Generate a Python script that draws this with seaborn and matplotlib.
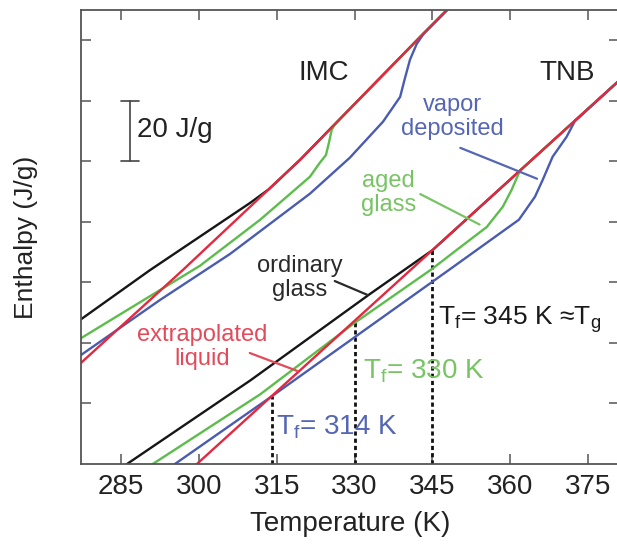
import numpy as np
import pandas as pd
import matplotlib
matplotlib.use("Agg")
import matplotlib.pyplot as plt
import seaborn as sns

# ---- enthalpy curves (T in K, H in J/g, arbitrary offset) ----
# IMC
imc_liquid_T = [277.0, 296.9, 319.5, 342.6, 349.0]
imc_liquid_H = [33.0, 64.1, 100.5, 141.0, 152.0]
imc_glass_T = [277.0, 290.6, 309.9, 313.5, 319.5, 342.6, 349.0]
imc_glass_H = [47.5, 64.1, 86.3, 90.8, 100.5, 141.0, 152.0]
imc_aged_T = [277.0, 300.2, 311.8, 321.4, 323.3, 324.5, 325.1, 325.6, 326.2, 342.6, 349.0]
imc_aged_H = [41.3, 65.5, 80.7, 94.9, 99.5, 102.1, 106.4, 110.4, 112.2, 141.0, 152.0]
imc_vapor_T = [277.0, 292.5, 306.0, 321.4, 329.1, 335.5, 338.8, 339.7, 340.7, 342.0, 343.4, 349.0]
imc_vapor_H = [35.7, 54.2, 69.4, 89.3, 101.2, 113.1, 121.3, 127.3, 133.6, 138.8, 142.3, 152.0]

# TNB
tnb_liquid_T = [298.0, 382.0]
tnb_liquid_H = [-2.5, 128.2]
tnb_glass_T = [284.5, 309.9, 333.0, 345.0, 382.0]
tnb_glass_H = [-1.9, 27.6, 56.2, 70.6, 128.2]
tnb_aged_T = [289.3, 311.8, 330.0, 345.0, 349.0, 355.5, 358.6, 360.3, 361.9, 382.0]
tnb_aged_H = [-2.0, 23.0, 46.6, 64.5, 69.8, 78.3, 85.0, 90.6, 96.9, 128.2]
tnb_vapor_T = [293.7, 314.0, 348.2, 361.7, 364.8, 366.3, 368.2, 370.9, 372.5, 382.0]
tnb_vapor_H = [-2.0, 22.3, 64.1, 80.7, 88.3, 93.9, 101.5, 108.1, 113.3, 128.2]

# fictive temperatures of the TNB glasses and the liquid enthalpy there
tf_values = [314, 330, 345]
tf_enthalpy = [22.3, 47.0, 70.6]

x_ticks = [285, 300, 315, 330, 345, 360, 375]
y_ticks = [20, 40, 60, 80, 100, 120, 140]

curve_colors = {
    "ordinary glass": "#161616",
    "aged glass": "#5dbd4c",
    "vapor deposited": "#4a5cb0",
    "extrapolated liquid": "#e3283f",
}

rows = []
def add(system, curve, T, H):
    for t, h in zip(T, H):
        rows.append({"system": system, "curve": curve, "T": t, "H": h})

add("IMC", "extrapolated liquid", imc_liquid_T, imc_liquid_H)
add("IMC", "ordinary glass", imc_glass_T, imc_glass_H)
add("IMC", "aged glass", imc_aged_T, imc_aged_H)
add("IMC", "vapor deposited", imc_vapor_T, imc_vapor_H)
add("TNB", "extrapolated liquid", tnb_liquid_T, tnb_liquid_H)
add("TNB", "ordinary glass", tnb_glass_T, tnb_glass_H)
add("TNB", "aged glass", tnb_aged_T, tnb_aged_H)
add("TNB", "vapor deposited", tnb_vapor_T, tnb_vapor_H)
df = pd.DataFrame(rows)

sns.set_theme(style="ticks")
plt.rcParams["font.family"] = ["Liberation Sans", "DejaVu Sans"]
plt.rcParams["mathtext.fontset"] = "custom"
plt.rcParams["mathtext.rm"] = "Liberation Sans"
plt.rcParams["mathtext.default"] = "regular"

fig = plt.figure(figsize=(6.17, 5.46), dpi=100)
ax = fig.add_axes([0.1308, 0.1502, 0.8724, 0.8315])

for name in ["ordinary glass", "aged glass", "vapor deposited", "extrapolated liquid"]:
    sns.lineplot(data=df[df["curve"] == name], x="T", y="H", units="system",
                 estimator=None, sort=False, color=curve_colors[name],
                 linewidth=1.7, ax=ax, legend=False)

# fictive temperature markers
for tf, hf in zip(tf_values, tf_enthalpy):
    ax.plot([tf, tf], [0, hf], color="#111111", linewidth=2.0,
            linestyle=(0, (1.5, 1.1)), zorder=1.5)

ax.set_xlim(277.2, 381.0)
ax.set_ylim(0, 150)
ax.set_xticks(x_ticks)
ax.set_yticks(y_ticks)
ax.set_yticklabels([])
ax.tick_params(direction="in", length=7, width=1.1, top=True, right=True,
               color="#555555", labelsize=20, labelcolor="#222222", pad=7)
for s in ax.spines.values():
    s.set_color("#555555")
    s.set_linewidth(1.3)

ax.set_xlabel("Temperature (K)", fontsize=20, color="#222222", labelpad=8)
ax.set_ylabel("Enthalpy (J/g)", fontsize=19, color="#222222", labelpad=24)

# 20 J/g scale bar
bar_T, bar_lo, bar_hi, cap = 286.7, 100.0, 120.0, 1.7
ax.plot([bar_T, bar_T], [bar_lo, bar_hi], color="#444444", lw=1.2)
ax.plot([bar_T - cap, bar_T + cap], [bar_lo, bar_lo], color="#444444", lw=1.2)
ax.plot([bar_T - cap, bar_T + cap], [bar_hi, bar_hi], color="#444444", lw=1.2)
ax.text(288.1, 110.4, "20 J/g", fontsize=20, color="#222222", ha="left", va="center")

# system labels
ax.text(324.1, 129.3, "IMC", fontsize=20, color="#222222", ha="center", va="center")
ax.text(371.0, 129.3, "TNB", fontsize=20, color="#222222", ha="center", va="center")

# curve annotations with leader lines
notes = [
    ("vapor\ndeposited", (348.8, 114.7), (349.9, 104.8), (365.7, 93.9), "#5566b4"),
    ("aged\nglass", (336.6, 89.6), (342.2, 89.6), (354.6, 78.7), "#78c465"),
    ("ordinary\nglass", (319.5, 61.5), (325.7, 60.8), (333.0, 55.5), "#2a2a2a"),
    ("extrapolated\nliquid", (300.6, 38.7), (309.3, 37.0), (319.5, 30.4), "#e34a5a"),
]
for text, pos, start, end, col in notes:
    ax.text(pos[0], pos[1], text, fontsize=17, color=col, ha="center",
            va="center", linespacing=1.1)
    ax.annotate("", xy=end, xytext=start,
                arrowprops=dict(arrowstyle="-", color=col, lw=1.6))

ax.text(314.9, 9.6, "T$_f$= 314 K", fontsize=20, color="#5566b4", ha="left", va="baseline")
ax.text(331.6, 28.4, "T$_f$= 330 K", fontsize=20, color="#78c465", ha="left", va="baseline")
ax.text(346.1, 46.0, "T$_f$= 345 K \u2248T$_g$", fontsize=19, color="#1a1a1a",
        ha="left", va="baseline")

fig.savefig("out.png", dpi=100)
